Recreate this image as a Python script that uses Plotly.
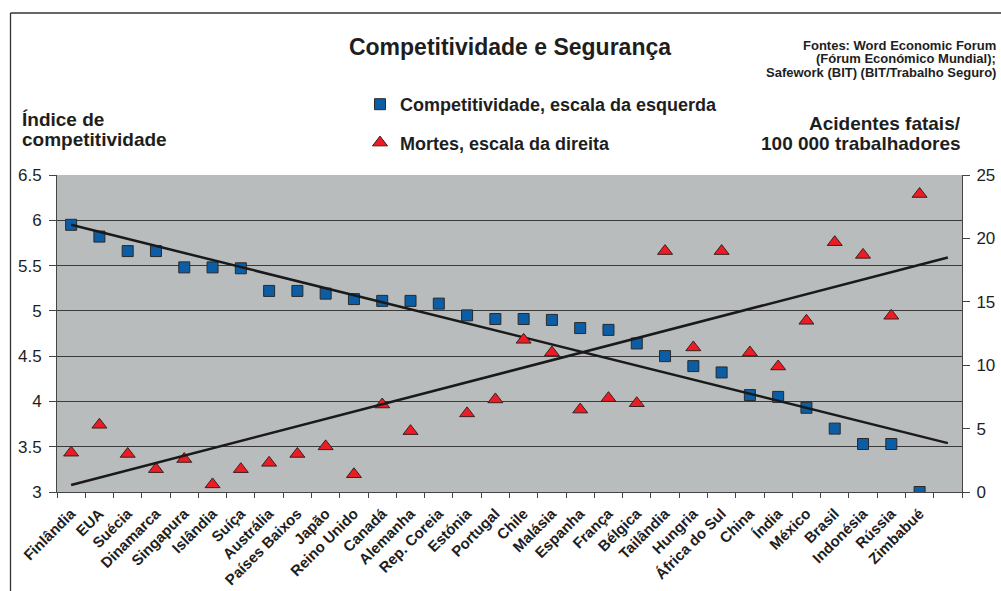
import plotly.graph_objects as go

# ---------------- data ----------------
countries = ["Finlândia", "EUA", "Suécia", "Dinamarca", "Singapura", "Islândia", "Suíça",
             "Austrália", "Países Baixos", "Japão", "Reino Unido", "Canadá", "Alemanha",
             "Rep. Coreia", "Estónia", "Portugal", "Chile", "Malásia", "Espanha", "França",
             "Bélgica", "Tailândia", "Hungria", "África do Sul", "China", "Índia", "México",
             "Brasil", "Indonésia", "Rússia", "Zimbabué"]
competitividade = [5.95, 5.82, 5.66, 5.66, 5.48, 5.48, 5.47, 5.22, 5.22, 5.19, 5.13, 5.11, 5.11,
                   5.08, 4.95, 4.91, 4.91, 4.90, 4.81, 4.79, 4.64, 4.50, 4.39, 4.32, 4.07, 4.05,
                   3.93, 3.70, 3.53, 3.53, 3.00]
mortes = [3.1, 5.3, 3.0, 1.8, 2.6, 0.6, 1.8, 2.3, 3.0, 3.6, 1.4, 6.9, 4.8, None, 6.2, 7.3,
          12.0, 11.0, 6.5, 7.4, 7.0, 19.0, 11.4, 19.0, 11.0, 9.9, 13.5, 19.7, 18.7, 13.9, 23.5]
# trend lines: value at first and last category slot
trend_pos = [1, 32]
trend_comp = [5.95, 3.54]
trend_mortes = [0.55, 18.5]

positions = list(range(1, len(countries) + 1))
n_slots = 32

# ---------------- layout helpers ----------------
W, H = 1001, 591
ML, MR, MT, MB = 57, 39, 175, 99
PW, PH = W - ML - MR, H - MT - MB


def px(x):
    return (x - ML) / PW


def py(y):
    return (H - MB - y) / PH


FONT = "Liberation Sans, Arial, sans-serif"
TXT = "#1e1e1e"

fig = go.Figure()

fig.add_trace(go.Scatter(
    x=positions, y=competitividade, mode="markers",
    name="Competitividade, escala da esquerda", legendgroup="a",
    marker=dict(symbol="square", size=11, color="#0B5DA5",
                line=dict(color="#2a2a2a", width=1)),
))
fig.add_trace(go.Scatter(
    x=positions, y=mortes, mode="markers", yaxis="y2",
    name="Mortes, escala da direita", legendgroup="b",
    marker=dict(symbol="triangle-up", size=13, color="#EC1C24",
                line=dict(color="#3a2020", width=1)),
))
fig.add_trace(go.Scatter(
    x=trend_pos, y=trend_comp, mode="lines", showlegend=False,
    line=dict(color="#1a1a1a", width=2.5),
))
fig.add_trace(go.Scatter(
    x=trend_pos, y=trend_mortes, mode="lines", yaxis="y2", showlegend=False,
    line=dict(color="#1a1a1a", width=2.5),
))

fig.update_layout(
    width=W, height=H,
    margin=dict(l=ML, r=MR, t=MT, b=MB, autoexpand=False),
    paper_bgcolor="white",
    plot_bgcolor="#B9BCBD",
    font=dict(family=FONT, color=TXT),
    title=dict(text="Competitividade e Segurança", x=510 / W, xanchor="center",
               y=1 - 47 / H, yanchor="middle", yref="container",
               font=dict(family=FONT, size=23, weight="bold", color=TXT)),
    showlegend=True,
    legend=dict(x=px(360), xanchor="left", y=py(86), yanchor="top",
                bgcolor="rgba(0,0,0,0)", traceorder="grouped", tracegroupgap=12,
                font=dict(family=FONT, size=18, weight="bold", color=TXT)),
    xaxis=dict(range=[0.5, n_slots + 0.5], tickmode="array", tickvals=positions,
               ticktext=countries, tickangle=-45, ticks="outside", ticklen=6,
               tickcolor="rgba(0,0,0,0)", automargin=False,
               tickfont=dict(family=FONT, size=15, weight="bold", color=TXT),
               showgrid=False, zeroline=False, showline=True, linecolor="#444", linewidth=1,
               minor=dict(tickvals=[i + 0.5 for i in range(0, n_slots + 1)],
                          ticks="outside", ticklen=5, tickcolor="#444", showgrid=False)),
    yaxis=dict(range=[3, 6.5], dtick=0.5, tick0=3, ticks="outside", ticklen=7,
               ticklabelstandoff=4,
               tickcolor="#444", showline=True, linecolor="#444", linewidth=1,
               showgrid=True, gridcolor="#3a3a3a", gridwidth=1, zeroline=False,
               automargin=False, tickfont=dict(family=FONT, size=17, color=TXT)),
    yaxis2=dict(range=[0, 25], dtick=5, tick0=0, overlaying="y", side="right",
                ticks="outside", ticklen=7, ticklabelstandoff=3,
                tickcolor="#444", showline=True,
                linecolor="#444", linewidth=1, showgrid=False, zeroline=False,
                automargin=False, tickfont=dict(family=FONT, size=17, color=TXT)),
)

annotations = [
    dict(text="Índice de", x=px(20), y=py(119.5)),
    dict(text="competitividade", x=px(20), y=py(139.5)),
]
for a in annotations:
    a.update(xanchor="left", yanchor="middle",
             font=dict(family=FONT, size=19, weight="bold", color=TXT))
right_titles = [
    dict(text="Acidentes fatais/", x=px(963), y=py(123.5)),
    dict(text="100 000 trabalhadores", x=px(963), y=py(143)),
]
for a in right_titles:
    a.update(xanchor="right", yanchor="middle",
             font=dict(family=FONT, size=19, weight="bold", color=TXT))
sources = [
    dict(text="Fontes: Word Economic Forum", x=px(998), y=py(45)),
    dict(text="(Fórum Económico Mundial);", x=px(998), y=py(58.5)),
    dict(text="Safework (BIT) (BIT/Trabalho Seguro)", x=px(998), y=py(72)),
]
for a in sources:
    a.update(xanchor="right", yanchor="middle",
             font=dict(family=FONT, size=13, weight="bold", color=TXT))

for a in annotations + right_titles + sources:
    a.update(xref="paper", yref="paper", showarrow=False)
fig.update_layout(annotations=annotations + right_titles + sources)

# outer frame (top and left edges visible)
fig.add_shape(type="line", xref="paper", yref="paper",
              x0=px(10.5), x1=px(1010), y0=py(13), y1=py(13),
              line=dict(color="#333", width=1.3))
fig.add_shape(type="line", xref="paper", yref="paper",
              x0=px(10.5), x1=px(10.5), y0=py(13), y1=py(600),
              line=dict(color="#333", width=1.3))

fig.write_html(
    "out.html",
    config={"displayModeBar": False},
    post_script="document.body.style.margin='0';document.body.style.overflow='hidden';",
)
